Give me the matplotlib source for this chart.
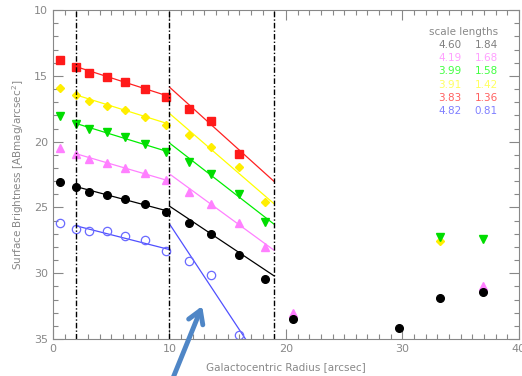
import numpy as np
import matplotlib
matplotlib.use('Agg')
import matplotlib.pyplot as plt
from matplotlib.ticker import MultipleLocator

# radii of the annular measurements (arcsec)
radius = [0.6, 2.0, 3.1, 4.6, 6.2, 7.9, 9.7, 11.7, 13.6, 16.0, 18.2]

red_sb = [13.8, 14.3, 14.8, 15.1, 15.5, 16.0, 16.6, 17.5, 18.4, 20.9]
yellow_sb = [15.9, 16.45, 16.9, 17.3, 17.6, 18.1, 18.7, 19.5, 20.4, 21.95, 24.6]
green_sb = [18.05, 18.65, 19.0, 19.3, 19.65, 20.2, 20.8, 21.55, 22.45, 24.0, 26.1]
pink_sb = [20.5, 20.95, 21.3, 21.6, 22.0, 22.4, 22.9, 23.8, 24.7, 26.2, 28.0]
black_sb = [23.05, 23.45, 23.8, 24.05, 24.35, 24.75, 25.35, 26.2, 27.0, 28.6, 30.45]
blue_sb = [26.2, 26.65, 26.8, 26.8, 27.15, 27.5, 28.3, 29.1, 30.15, 34.7]

# outer isolated points
outer_black_r = [20.6, 29.7, 33.2, 36.9]
outer_black_sb = [33.45, 34.15, 31.9, 31.4]
outer_pink_r = [20.6, 36.9]
outer_pink_sb = [33.0, 30.95]
outer_green_r = [33.2, 36.9]
outer_green_sb = [27.25, 27.4]
outer_yellow_r = [33.2]
outer_yellow_sb = [27.55]

# break radii for the two-component fits
breaks = [2.0, 10.0, 19.0]

# scale lengths (inner, outer) and fit zero points at the start of each segment
scale_inner = [4.60, 4.19, 3.99, 3.91, 3.83, 4.82]
scale_outer = [1.84, 1.68, 1.58, 1.42, 1.36, 0.81]
start_inner = [23.42, 20.92, 18.62, 16.45, 14.3, 26.4]
start_outer = [24.9, 22.45, 20.1, 17.85, 15.85, 26.25]

band_colors = ['black', '#ff80ff', '#00ee00', '#ffff00', '#ff2020', '#5050ff']
text_colors = ['#808080', '#ffa0ff', '#40ff40', '#ffff60', '#ff6060', '#8080ff']

fig = plt.figure(figsize=(5.22, 3.76), dpi=100)
ax = fig.add_axes([0.1015, 0.0984, 0.8925, 0.8746])

grey = '#888888'

# fitted exponential profiles
for i in range(6):
    r1 = np.array([breaks[0], breaks[1]])
    ax.plot(r1, start_inner[i] + 1.0857 * (r1 - breaks[0]) / scale_inner[i],
            color=band_colors[i], lw=0.9)
    r2 = np.array([breaks[1], breaks[2]])
    ax.plot(r2, start_outer[i] + 1.0857 * (r2 - breaks[1]) / scale_outer[i],
            color=band_colors[i], lw=0.9)

ax.plot(radius[:len(red_sb)], red_sb, 's', color='#ff1a1a', ms=5.5, mec='#ff1a1a')
ax.plot(radius, yellow_sb, 'D', color='#ffee00', ms=4.2)
ax.plot(radius, green_sb, 'v', color='#00dd00', ms=5.2)
ax.plot(radius, pink_sb, '^', color='#ff80ff', ms=5.2)
ax.plot(radius, black_sb, 'o', color='black', ms=5.5)
ax.plot(radius[:len(blue_sb)], blue_sb, 'o', mfc='none', mec='#6a6aff', ms=6, mew=0.9)

ax.plot(outer_yellow_r, outer_yellow_sb, 'D', color='#ffee00', ms=4.2)
ax.plot(outer_green_r, outer_green_sb, 'v', color='#00dd00', ms=5.2)
ax.plot(outer_pink_r, outer_pink_sb, '^', color='#ff80ff', ms=5.2)
ax.plot(outer_black_r, outer_black_sb, 'o', color='black', ms=5.5)

for b in breaks:
    ax.axvline(b, color='black', ls=(0, (4, 1.5, 1, 1.5)), lw=1.0)

ax.set_xlim(0, 40)
ax.set_ylim(35, 10)
ax.xaxis.set_major_locator(MultipleLocator(10))
ax.xaxis.set_minor_locator(MultipleLocator(1))
ax.yaxis.set_major_locator(MultipleLocator(5))
ax.yaxis.set_minor_locator(MultipleLocator(1))
ax.tick_params(which='both', direction='in', top=True, right=True,
               colors=grey, labelcolor=grey, labelsize=8)
ax.tick_params(which='major', length=7, width=0.8)
ax.tick_params(which='minor', length=3.5, width=0.8)
for s in ax.spines.values():
    s.set_color(grey)
    s.set_linewidth(0.8)

ax.set_xlabel('Galactocentric Radius [arcsec]', color=grey, fontsize=7.5, labelpad=6)
ax.set_ylabel('Surface Brightness [ABmag/arcsec$^2$]', color=grey, fontsize=7.5, labelpad=6)

# scale length table
ax.text(0.955, 0.935, 'scale lengths', transform=ax.transAxes, color=grey,
        fontsize=7.5, ha='right', va='center')
for i in range(6):
    yy = 0.895 - i * 0.0405
    ax.text(0.877, yy, '%.2f' % scale_inner[i], transform=ax.transAxes,
            color=text_colors[i], fontsize=7.5, ha='right', va='center')
    ax.text(0.955, yy, '%.2f' % scale_outer[i], transform=ax.transAxes,
            color=text_colors[i], fontsize=7.5, ha='right', va='center')

# pointer arrow
ax.annotate('', xy=(12.9, 32.3), xytext=(9.6, 39.5),
            arrowprops=dict(arrowstyle='->,head_length=0.9,head_width=0.55',
                            color='#4f86c6', lw=3.5),
            annotation_clip=False)

fig.savefig('out.png', dpi=100)
